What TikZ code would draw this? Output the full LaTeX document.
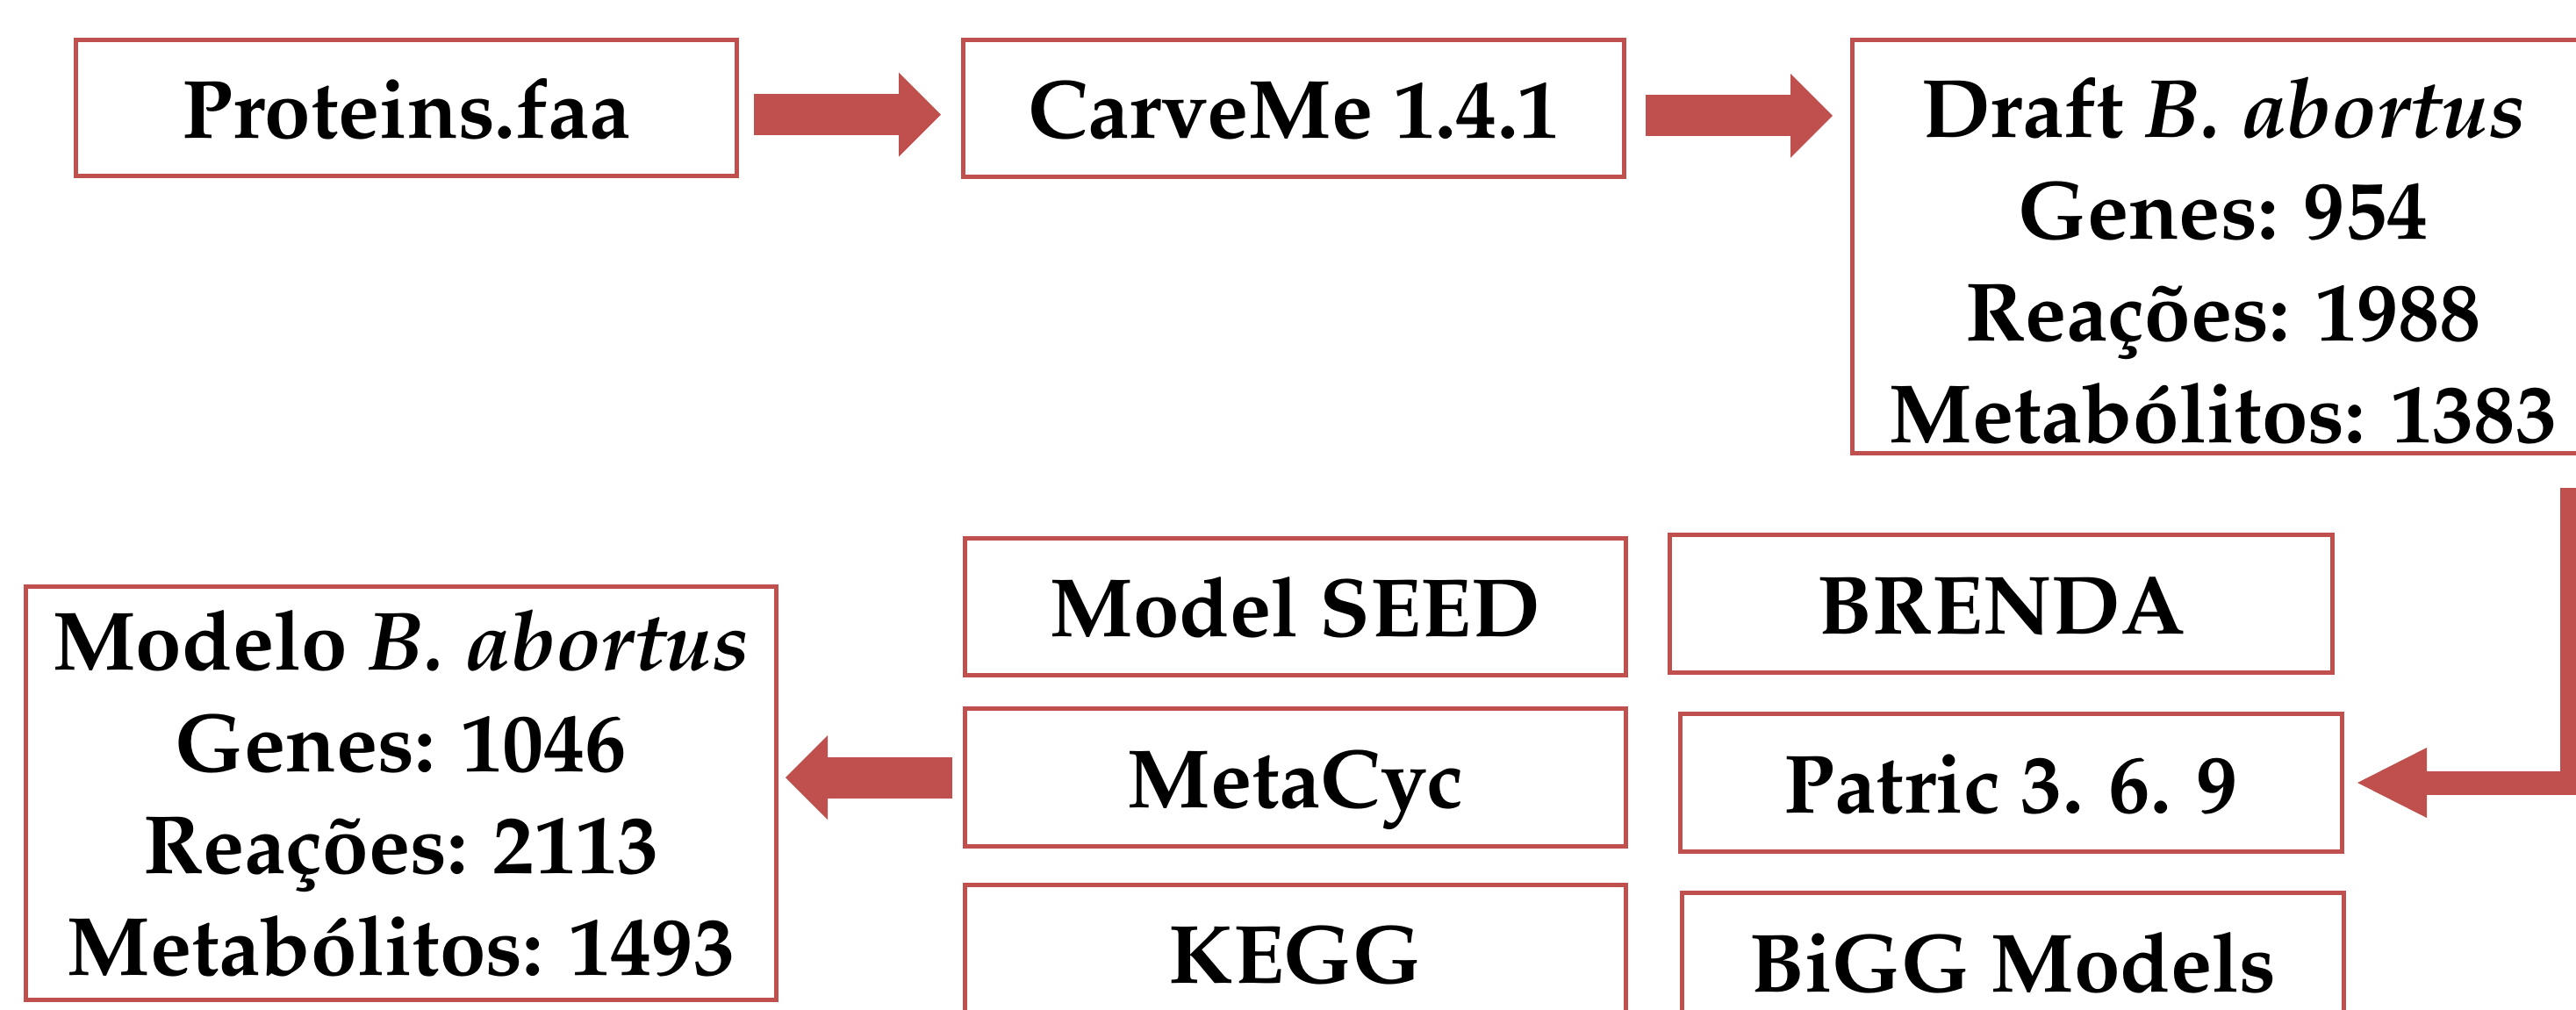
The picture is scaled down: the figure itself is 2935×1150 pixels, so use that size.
\documentclass[tikz,border=0pt]{standalone}
\usepackage[T1]{fontenc}
\usepackage{mathpazo}
\usetikzlibrary{arrows.meta,calc}
\definecolor{boxred}{HTML}{C0504D}
\tikzset{
  boxbase/.style={draw=boxred, line width=1.25pt, fill=white, inner sep=0pt,
    font=\bfseries\fontsize{23.6}{29}\selectfont},
  box/.style={boxbase, text height=20pt, text depth=3pt},
  bigbox/.style={boxbase, align=center},
  fatarrow/.style={draw=boxred, line width=11.75pt,
    -{Triangle[length=12pt,width=24pt,line width=0pt]}},
  elbowarrow/.style={draw=boxred, line width=6.75pt, line join=miter,
    -{Triangle[length=19.75pt,width=20pt,line width=0pt]}},
}
\begin{document}
\begin{tikzpicture}[x=0.25pt,y=-0.25pt]
\useasboundingbox (0,0) rectangle (2935,1150);
\clip (0,0) rectangle (2935,1150);
\fill[white] (0,0) rectangle (2935,1150);
% top row
\node[box, minimum width=188.25pt, minimum height=38.75pt] (prot) at (463,123) {Proteins.faa};
\node[box, minimum width=188.25pt, minimum height=39pt] (carve) at (1474,123.5) {CarveMe 1.4.1};
\node[bigbox, minimum width=211.25pt, minimum height=117.75pt] (draft) at (2533,281)
  {\rule{0pt}{25pt}Draft \textit{B. abortus}\\ Genes: 954\\ Rea\c{c}\~oes: 1988\\ Metab\'olitos: 1383};
% bottom left
\node[bigbox, minimum width=213.75pt, minimum height=117.75pt] (modelo) at (457,904)
  {Modelo \textit{B. abortus}\\ Genes: 1046\\ Rea\c{c}\~oes: 2113\\ Metab\'olitos: 1493};
% databases
\node[box, minimum width=188.25pt, minimum height=39pt] (seed) at (1476,691.5) {Model SEED};
\node[box, minimum width=188.25pt, minimum height=39.25pt] (metacyc) at (1476,886) {MetaCyc};
\node[box, minimum width=188.25pt, minimum height=39pt] (kegg) at (1476,1086) {KEGG};
\node[box, minimum width=188.75pt, minimum height=39.25pt] (brenda) at (2280,688) {BRENDA};
\node[box, minimum width=188.5pt, minimum height=39.25pt] (patric) at (2291.5,892) {Patric 3. 6. 9};
\node[box, minimum width=188.5pt, minimum height=39.25pt] (bigg) at (2293.5,1096) {BiGG Models};
% connectors
\draw[fatarrow, shorten <=4.25pt, shorten >=5.75pt]
  ([yshift=-1.9pt]prot.east) -- ([yshift=-1.9pt]prot.east -| carve.west);
\draw[fatarrow, shorten <=5.5pt, shorten >=5pt]
  ([yshift=-2.1pt]carve.east) -- ([yshift=-2.1pt]carve.east -| draft.west);
\draw[fatarrow, shorten <=3pt, shorten >=2pt]
  (metacyc.west) -- (metacyc.west -| modelo.east);
\coordinate (e0) at (2930.5,556);
\draw[elbowarrow, shorten >=3.75pt] (e0) |- (patric.east);
\end{tikzpicture}
\end{document}
